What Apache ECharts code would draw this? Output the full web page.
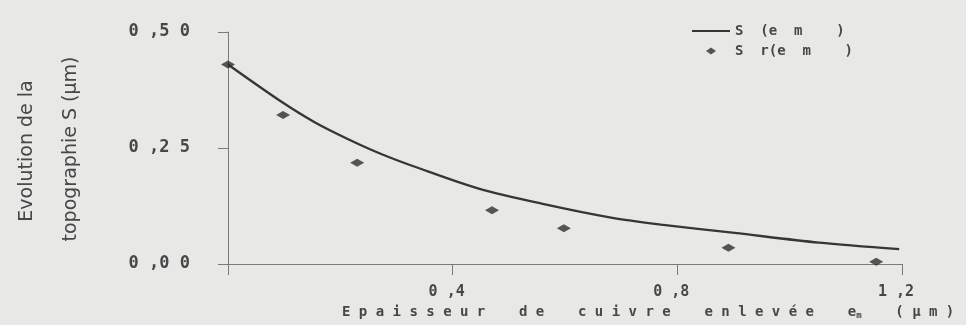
<!DOCTYPE html>
<html>
<head>
<meta charset="utf-8">
<script src="https://cdn.jsdelivr.net/npm/echarts@6/dist/echarts.min.js"></script>
<style>
  html, body { margin: 0; padding: 0; background: #e8e9e7; }
  #chart { width: 966px; height: 325px; }
</style>
</head>
<body>
<div id="chart"></div>
<script>
// Fitted curve S(em) against removed copper thickness (µm)
const curveX = [0, 0.096, 0.155, 0.214, 0.275, 0.334, 0.445, 0.5625, 0.682, 0.771, 0.902, 1.052, 1.195];
const curveY = [0.430, 0.349, 0.305, 0.269, 0.236, 0.209, 0.163, 0.129, 0.100, 0.085, 0.067, 0.046, 0.032];

// Measured roughness Sr(em)
const measX = [0, 0.098, 0.23, 0.47, 0.598, 0.891, 1.154];
const measY = [0.430, 0.321, 0.218, 0.116, 0.077, 0.035, 0.005];

const yTicks = [0, 0.25, 0.5];
const yTickLabels = ['0 ,0 0', '0 ,2 5', '0 ,5 0'];
const xTicks = [0, 0.4, 0.8, 1.2];
const xTickLabels = ['', '0 ,4', '0 ,8', '1 ,2'];

const seriesNames = ['S  (e  m    )', 'S  r(e  m    )'];
const yTitleLines = ['Evolution de la', 'topographie S (µm)'];
const xTitleParts = ['E p a i s s e u r    d e    c u i v r e    e n l e v é e    e', 'm', '    ( µ m )'];

const ink = '#363636';
const axisInk = '#7a7a7a';
const textInk = '#474747';
const mono = '"DejaVu Sans Mono", monospace';

function pickLabel(ticks, labels) {
  return function (v) {
    const i = ticks.findIndex(t => Math.abs(t - v) < 1e-9);
    return i >= 0 ? labels[i] : '';
  };
}

const chart = echarts.init(document.getElementById('chart'), null, { renderer: 'canvas' });

chart.setOption({
  backgroundColor: '#e8e9e7',
  animation: false,
  grid: { left: 228, right: 64, top: 32, bottom: 61, containLabel: false },
  legend: {
    orient: 'vertical',
    left: 692,
    top: 24,
    padding: 0,
    itemWidth: 38,
    itemHeight: 7,
    itemGap: 6,
    symbolKeepAspect: true,
    selectedMode: false,
    textStyle: { fontFamily: mono, fontSize: 14, fontWeight: 'bold', color: textInk, lineHeight: 14 },
    data: [
      { name: seriesNames[0], icon: 'path://M0,0H38V2.2H0Z' },
      { name: seriesNames[1], icon: 'path://M0,3.5L5,0L10,3.5L5,7Z' }
    ]
  },
  xAxis: {
    type: 'value',
    min: 0, max: 1.2, interval: 0.4,
    axisLine: { show: true, lineStyle: { color: axisInk, width: 1 } },
    axisTick: { show: true, inside: false, length: 11, lineStyle: { color: axisInk } },
    splitLine: { show: false },
    axisLabel: {
      margin: 21,
      padding: [0, 12, 0, 0],
      fontFamily: mono, fontSize: 15, fontWeight: 'bold', color: textInk,
      formatter: pickLabel(xTicks, xTickLabels)
    }
  },
  yAxis: {
    type: 'value',
    min: 0, max: 0.5, interval: 0.25,
    axisLine: { show: true, lineStyle: { color: axisInk, width: 1 } },
    axisTick: { show: true, inside: false, length: 10, lineStyle: { color: axisInk } },
    splitLine: { show: false },
    axisLabel: {
      margin: 38,
      fontFamily: mono, fontSize: 17, fontWeight: 'bold', color: textInk,
      formatter: pickLabel(yTicks, yTickLabels)
    }
  },
  graphic: [
    {
      type: 'text', x: 27, y: 151, rotation: Math.PI / 2,
      style: {
        text: yTitleLines[0], align: 'center', verticalAlign: 'middle',
        font: '19px "DejaVu Sans", sans-serif', fill: textInk
      }
    },
    {
      type: 'text', x: 71, y: 149, rotation: Math.PI / 2,
      style: {
        text: yTitleLines[1], align: 'center', verticalAlign: 'middle',
        font: '19px "DejaVu Sans", sans-serif', fill: textInk
      }
    },
    {
      type: 'text', x: 342, y: 312,
      style: {
        text: '{a|' + xTitleParts[0] + '}{s|' + xTitleParts[1] + '}{a|' + xTitleParts[2] + '}',
        align: 'left', verticalAlign: 'middle',
        rich: {
          a: { fontFamily: mono, fontSize: 14, fontWeight: 'bold', fill: textInk, lineHeight: 16 },
          s: { fontFamily: mono, fontSize: 9, fontWeight: 'bold', fill: textInk, padding: [7, 0, 0, 0], lineHeight: 9 }
        }
      }
    }
  ],
  series: [
    {
      name: seriesNames[0],
      type: 'line',
      smooth: 0.3,
      symbol: 'none',
      showSymbol: false,
      lineStyle: { color: ink, width: 2.3 },
      itemStyle: { color: ink },
      data: curveX.map((x, i) => [x, curveY[i]]),
      z: 2
    },
    {
      name: seriesNames[1],
      type: 'scatter',
      symbol: 'diamond',
      symbolSize: [14, 8],
      itemStyle: { color: '#2e2e2e' },
      data: measX.map((x, i) => [x, measY[i]]),
      z: 3
    }
  ]
});
</script>
</body>
</html>
